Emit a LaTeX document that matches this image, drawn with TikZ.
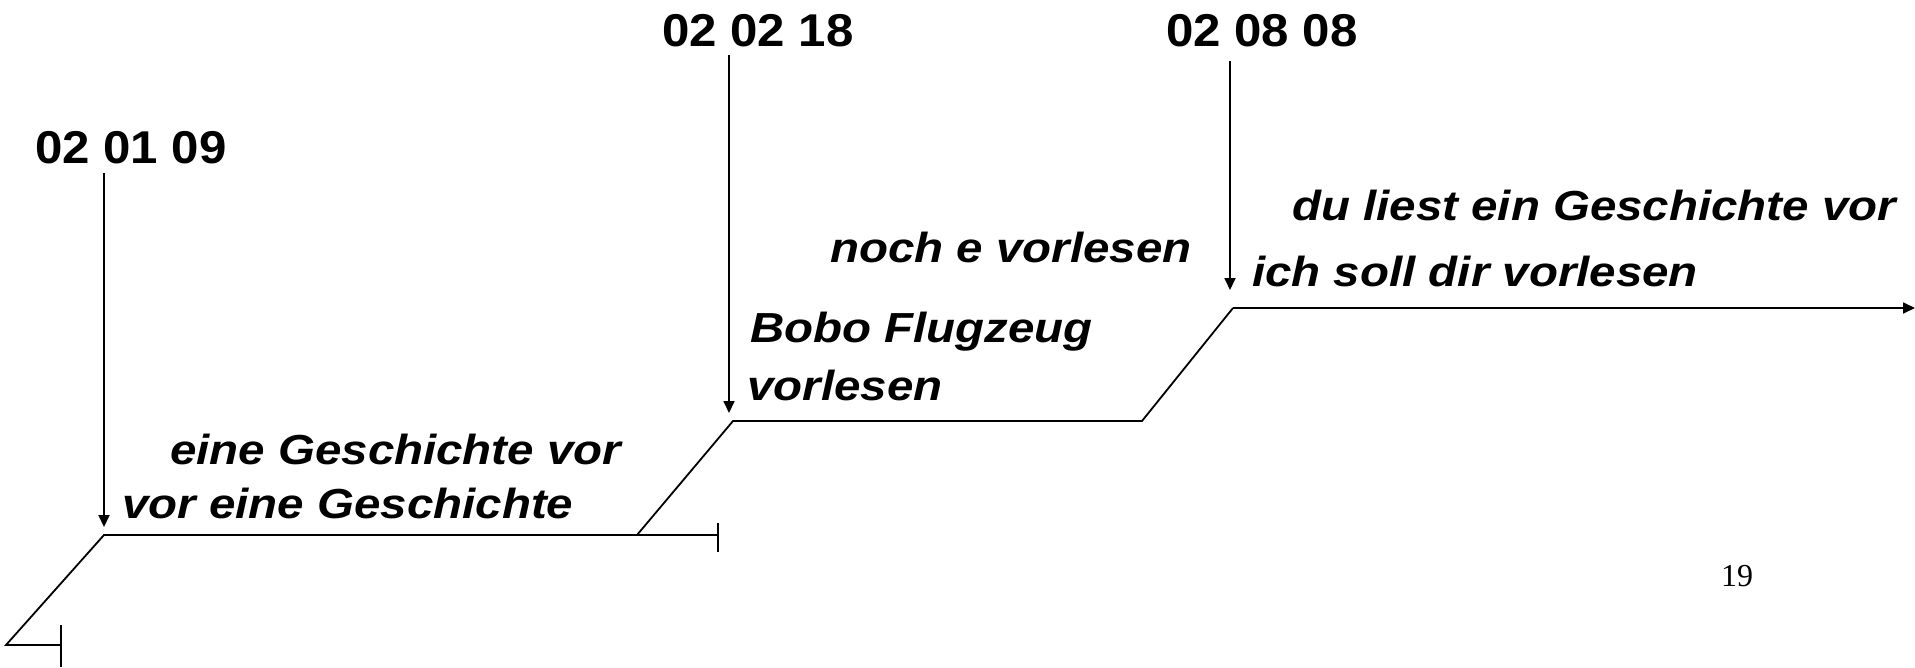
\documentclass[tikz,border=0pt]{standalone}
\usepackage{fontspec}
\setmainfont{Liberation Sans}
\newfontfamily\seriffont{Liberation Serif}
\newfontfamily\uttfont[FakeStretch=1.13]{Liberation Sans}
\newfontfamily\datefont[FakeStretch=1.07]{Liberation Sans}
\usetikzlibrary{arrows.meta}
\begin{document}
\begin{tikzpicture}[x=1pt,y=-1pt,
  line/.style={line width=1.8pt,black},
  datearrow/.style={line width=1.8pt,-{Triangle[length=12pt,width=11pt]}},
  datelbl/.style={font=\fontsize{46}{50}\datefont\bfseries, inner sep=0pt},
  utt/.style={font=\fontsize{42}{48}\uttfont\bfseries\itshape, inner sep=0pt, anchor=west},
  pagenum/.style={font=\fontsize{32}{36}\seriffont, inner sep=0pt}]
\useasboundingbox (0,0) rectangle (1915,667);
% timeline coordinates
\coordinate (s0) at (6,645);
\coordinate (t0) at (61,645);
\coordinate (a1) at (104,535);
\coordinate (e1) at (718,535);
\coordinate (b1) at (637,535);
\coordinate (a2) at (733,421);
\coordinate (e2) at (1142,421);
\coordinate (a3) at (1233,308);
\coordinate (e3) at (1915,308);
% timeline
\draw[line] (t0) -- (s0) -- (a1) -- (e1);
\draw[line] (61,625) -- (61,667);
\draw[line] (718,523) -- (718,552);
\draw[line] (b1) -- (a2) -- (e2) -- (a3);
\draw[line,-{Triangle[length=12pt,width=11pt]}] (a3) -- (e3);
% dates
\node[datelbl] (d1) at (131,148) {02 01 09};
\node[datelbl] (d2) at (758,31) {02 02 18};
\node[datelbl] (d3) at (1262,31) {02 08 08};
\coordinate (p1) at (104,527);
\coordinate (p2) at (729,413);
\coordinate (p3) at (1230,290);
\draw[datearrow] (104,173) -- (p1);
\draw[datearrow] (729,55) -- (p2);
\draw[datearrow] (1230,61) -- (p3);
% utterances
\node[utt] (u1) at (170,449) {eine Geschichte vor};
\node[utt] (u2) at (122,503) {vor eine Geschichte};
\node[utt] (u3) at (750,332) {Bobo Flugzeug};
\node[utt] (u4) at (747,385) {vorlesen};
\node[utt] (u5) at (830,247) {noch e vorlesen};
\node[utt] (u6) at (1292,205) {du liest ein Geschichte vor};
\node[utt] (u7) at (1252,271) {ich soll dir vorlesen};
\node[pagenum] (pg) at (1737,576) {19};
\end{tikzpicture}
\end{document}
